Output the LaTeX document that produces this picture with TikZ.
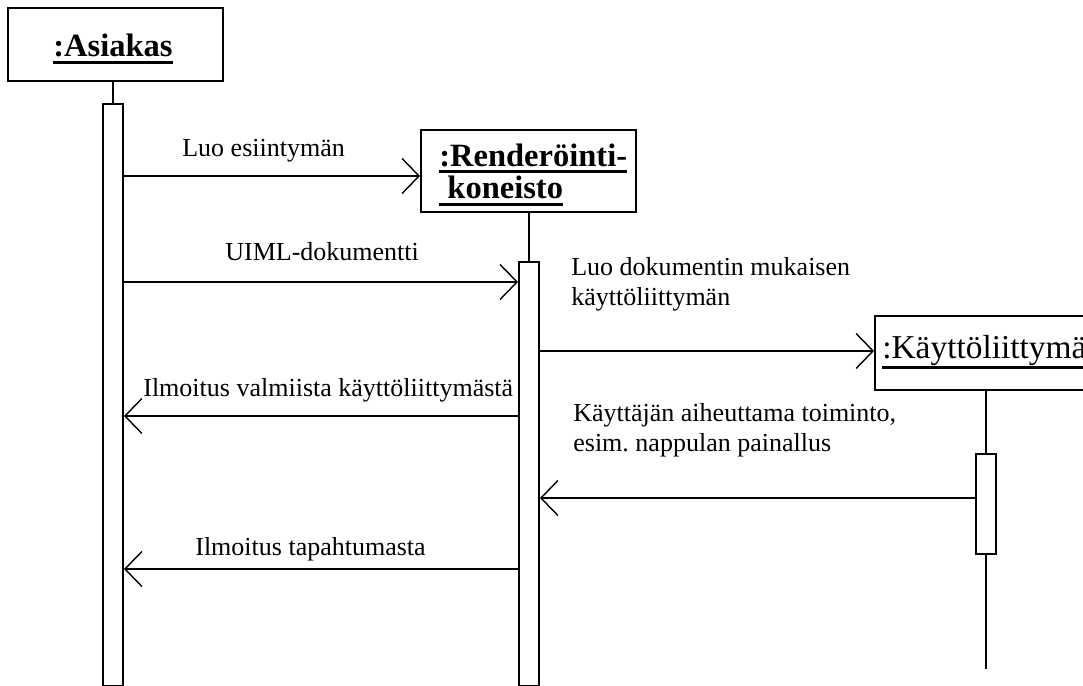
\documentclass[tikz,border=0pt]{standalone}
\usepackage{fontspec}
\setmainfont{Liberation Serif}
\usetikzlibrary{arrows.meta}
% one pixel of the reference
\newcommand{\px}{0.02cm}
\newcommand{\objname}[2][2.4pt]{\setbox0\hbox{#2}\dp0=0pt\vtop{\box0\kern#1\hrule height 1.7pt}}

\tikzset{
  objbox/.style={draw, line width=1.1pt, inner sep=0pt},
  actbar/.style={draw, line width=1.1pt, fill=white, inner sep=0pt, minimum width=20*\px},
  lifeline/.style={line width=1.1pt},
  msg/.style={line width=1.1pt, -{Straight Barb[length=0.34cm,width=0.7cm,line width=0.8pt]}},
  title/.style={font=\fontsize{18.5}{22}\selectfont\bfseries, inner sep=0pt, anchor=base west},
  lbl/.style={font=\fontsize{14.8}{16.8}\selectfont, inner sep=0pt, anchor=base west, align=left},
}

\begin{document}
\begin{tikzpicture}[x=\px,y=-\px]
  \useasboundingbox (0,0) rectangle (1083,686);

  %%%%% objects %%%%%
  \node[objbox, minimum width=215*\px, minimum height=73*\px] (abox) at (115.5,44.5) {};
  \node[title] (atxt) at (53,57) {\objname{:Asiakas}};

  \node[objbox, minimum width=215*\px, minimum height=82*\px] (rbox) at (528.5,171) {};
  \node[title] (rtxt1) at (439,167) {\objname[1.8pt]{:Renderöinti-}};
  \node[title] (rtxt2) at (439,198) {\objname[2.6pt]{\ koneisto}};

  \node[objbox, minimum width=225*\px, minimum height=74*\px] (kbox) at (987.5,353) {};
  \node[title, font=\fontsize{19}{22}\selectfont] (ktxt) at (882,358) {\objname[4.5pt]{:Käyttöliittymä}};

  %%%%% lifelines and activations %%%%%
  \node[actbar, minimum height=582*\px] (abar) at (113,395) {};
  \node[actbar, minimum height=424*\px] (rbar) at (529,474) {};
  \node[actbar, minimum height=100*\px] (kbar) at (986,504) {};
  \coordinate (kend) at (986,669);

  \draw[lifeline] (abar.north |- abox.south) -- (abar.north);
  \draw[lifeline] (rbar.north |- rbox.south) -- (rbar.north);
  \draw[lifeline] (kbar.north |- kbox.south) -- (kbar.north);
  \draw[lifeline] (kbar.south) -- (kend);

  %%%%% messages %%%%%
  \coordinate (m1) at (0,176);
  \coordinate (m2) at (0,282);
  \coordinate (m3) at (0,351);
  \coordinate (m4) at (0,416);
  \coordinate (m5) at (0,498);
  \coordinate (m6) at (0,569);

  \draw[msg] (abar.east |- m1) -- (rbox.west |- m1);
  \node[lbl] (l1) at (182,157) {Luo esiintymän};

  \draw[msg] (abar.east |- m2) -- (rbar.west |- m2);
  \node[lbl] (l2) at (225,260) {UIML-dokumentti};

  \draw[msg] (rbar.east |- m3) -- (kbox.west |- m3);
  \node[lbl] (l3) at (571,305) {Luo dokumentin mukaisen\\käyttöliittymän};

  \draw[msg] (rbar.west |- m4) -- (abar.east |- m4);
  \node[lbl] (l4) at (143,396) {Ilmoitus valmiista käyttöliittymästä};

  \draw[msg] (kbar.west |- m5) -- (rbar.east |- m5);
  \node[lbl] (l5) at (573,451) {Käyttäjän aiheuttama toiminto,\\esim.\ nappulan painallus};

  \draw[msg] (rbar.west |- m6) -- (abar.east |- m6);
  \node[lbl] (l6) at (195,555) {Ilmoitus tapahtumasta};
\end{tikzpicture}
\end{document}
